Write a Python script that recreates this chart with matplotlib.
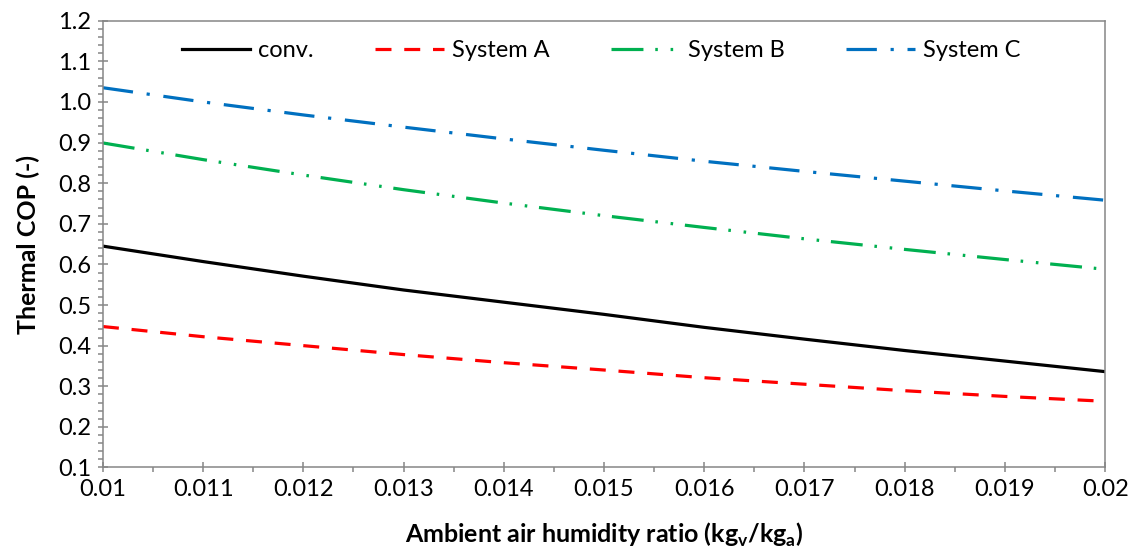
import matplotlib
matplotlib.use("Agg")
import matplotlib.pyplot as plt
from matplotlib.ticker import MultipleLocator, FormatStrFormatter

# Data
humidity = [0.010, 0.011, 0.012, 0.013, 0.014, 0.015, 0.016, 0.017, 0.018, 0.019, 0.020]
cop_conv = [0.645, 0.607, 0.571, 0.537, 0.507, 0.477, 0.445, 0.416, 0.388, 0.362, 0.336]
cop_sys_a = [0.447, 0.422, 0.400, 0.378, 0.358, 0.340, 0.321, 0.305, 0.289, 0.275, 0.263]
cop_sys_b = [0.899, 0.858, 0.820, 0.784, 0.751, 0.720, 0.691, 0.663, 0.637, 0.612, 0.588]
cop_sys_c = [1.035, 1.000, 0.968, 0.938, 0.909, 0.881, 0.854, 0.829, 0.805, 0.781, 0.758]

plt.rcParams['font.family'] = ['Lato', 'DejaVu Sans']
plt.rcParams['mathtext.fontset'] = 'custom'
plt.rcParams['mathtext.bf'] = 'Lato:bold'
plt.rcParams['mathtext.rm'] = 'Lato'

grey = '#868686'

fig = plt.figure(figsize=(11.35, 5.6), dpi=100)
ax = fig.add_axes([0.0907, 0.1652, 0.883, 0.7978])

lw = 2.3
ax.plot(humidity, cop_conv, color='black', lw=lw, label='conv.')
ax.plot(humidity, cop_sys_a, color='#FF0000', lw=lw, dashes=(5, 4), label='System A')
ax.plot(humidity, cop_sys_b, color='#00B050', lw=lw,
        dashes=(10, 3.7, 0.8, 4, 0.8, 3.7), label='System B')
ax.plot(humidity, cop_sys_c, color='#0070C0', lw=lw,
        dashes=(9.5, 4.3, 1, 4.3), label='System C')

ax.set_xlim(0.01, 0.02)
ax.set_ylim(0.1, 1.2)
ax.xaxis.set_major_locator(MultipleLocator(0.001))
ax.xaxis.set_minor_locator(MultipleLocator(0.0005))
ax.yaxis.set_major_locator(MultipleLocator(0.1))
ax.yaxis.set_minor_locator(MultipleLocator(0.02))
ax.yaxis.set_major_formatter(FormatStrFormatter('%.1f'))
ax.xaxis.set_major_formatter(plt.FuncFormatter(lambda v, p: ('%.3f' % v).rstrip('0')))

ax.tick_params(which='major', direction='inout', length=7, width=1.1, color=grey,
               labelsize=17, pad=5)
ax.tick_params(which='minor', direction='out', length=3.5, width=1.1, color=grey)
for s in ax.spines.values():
    s.set_color(grey)
    s.set_linewidth(1.1)

ax.set_ylabel('Thermal COP (-)', fontsize=18, fontweight='bold', labelpad=13)
ax.set_xlabel(r'Ambient air humidity ratio (kg$_\mathbf{v}$/kg$_\mathbf{a}$)',
              fontsize=18, fontweight='bold', labelpad=15)

ax.legend(loc='center', bbox_to_anchor=(0.497, 0.933), ncol=4, frameon=False,
          fontsize=17, handlelength=2.9, handletextpad=0.35, columnspacing=2.6)

fig.savefig('out.png', dpi=100)
